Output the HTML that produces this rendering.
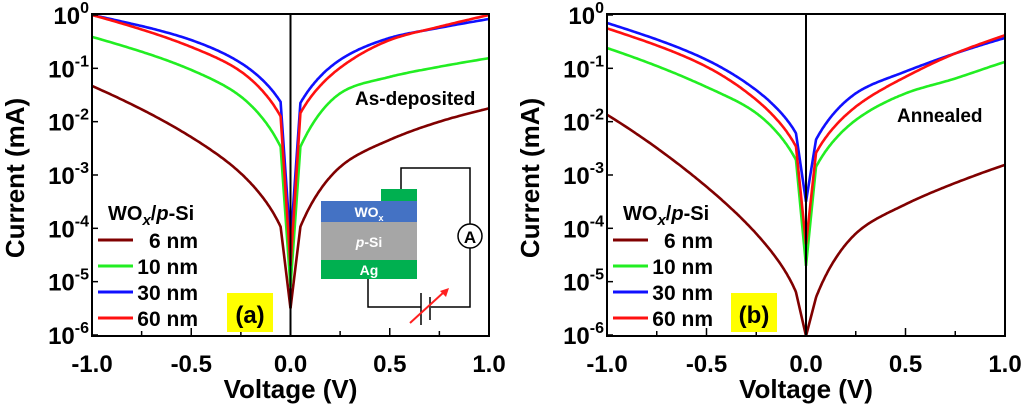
<!DOCTYPE html>
<html><head><meta charset="utf-8"><style>
body{margin:0;background:#fff;}
svg{display:block;font-family:"Liberation Sans",Arial,sans-serif;font-weight:bold;}
</style></head><body>
<svg id="s" width="1024" height="406" viewBox="0 0 1024 406" xmlns="http://www.w3.org/2000/svg"></svg>
<script>
const S=document.getElementById('s');let h='';
const Y=l=>15-l*53.33;
const cols=['#800000','#22ee22','#1010ff','#ff1010'];
// values at V = -1,-0.5,-0.25,-0.05,0,0.05,0.25,0.5,0.75,1
const data={a:[[-1.33,-2.29,-2.97,-3.97,-5.5,-3.97,-2.85,-2.34,-2.0,-1.75],
[-0.41,-1.03,-1.53,-2.47,-5.1,-2.47,-1.47,-1.16,-0.97,-0.81],
[0,-0.47,-0.9,-1.63,-4.3,-1.65,-0.84,-0.43,-0.24,-0.075],
[0,-0.6,-1.06,-1.9,-4.7,-1.84,-0.99,-0.47,-0.22,0]],
b:[[-1.87,-3.22,-4.1,-5.2,-6.1,-5.3,-4.1,-3.55,-3.15,-2.81],
[-0.62,-1.35,-1.84,-2.72,-4.7,-2.85,-1.97,-1.47,-1.19,-0.88],
[-0.15,-0.84,-1.41,-2.22,-3.5,-2.34,-1.47,-1.06,-0.72,-0.43],
[-0.25,-0.97,-1.59,-2.47,-4.3,-2.59,-1.72,-1.16,-0.72,-0.38]]};
function mono(xs,ys){const n=xs.length,dl=[],m=[];
 for(let i=0;i<n-1;i++)dl.push((ys[i+1]-ys[i])/(xs[i+1]-xs[i]));
 m[0]=dl[0];m[n-1]=dl[n-2];for(let i=1;i<n-1;i++)m[i]=dl[i-1]*dl[i]<=0?0:(dl[i-1]+dl[i])/2;
 for(let i=0;i<n-1;i++){if(dl[i]==0){m[i]=m[i+1]=0;continue;}const a=m[i]/dl[i],b=m[i+1]/dl[i],s=a*a+b*b;if(s>9){const t=3/Math.sqrt(s);m[i]=t*a*dl[i];m[i+1]=t*b*dl[i];}}
 return x=>{let j=0;while(j<n-2&&x>xs[j+1])j++;const hh=xs[j+1]-xs[j],t=(x-xs[j])/hh,t2=t*t,t3=t2*t;
  return (2*t3-3*t2+1)*ys[j]+(t3-2*t2+t)*hh*m[j]+(-2*t3+3*t2)*ys[j+1]+(t3-t2)*hh*m[j+1];};}
function side(X,ls,sgn){let us=[],vs=[];
 const map=sgn<0?[[0.05,3],[0.25,2],[0.5,1],[1,0]]:[[0.05,5],[0.25,6],[0.5,7],[0.75,8],[1,9]];
 map.forEach(([v,i])=>{us.push(Math.sqrt(v));vs.push(ls[i]);});
 const f=mono(us,vs);const pts=[[X(0),Y(ls[4])]];
 for(let k=0;k<=120;k++){const u=us[0]+(1-us[0])*k/120;pts.push([X(u*u*sgn),Y(f(u))]);}
 return pts.map(p=>p[0].toFixed(1)+','+Math.min(p[1],336).toFixed(1)).join(' ');}
function panel(L,R,d,lab,ann,annx,anny,legx,boxx){
 const X=v=>L+(v+1)/2*(R-L);const Z=X(0);
 d.forEach((ls,ci)=>{[-1,1].forEach(s=>{h+=`<polyline points="${side(X,ls,s)}" fill="none" stroke="${cols[ci]}" stroke-width="2.6" stroke-linejoin="round"/>`;});});
 h+=`<line x1="${Z}" y1="14" x2="${Z}" y2="336" stroke="#000" stroke-width="2"/>`;
 h+=`<rect x="${L}" y="14" width="${R-L}" height="322" fill="none" stroke="#000" stroke-width="2"/>`;
 for(let i=0;i<=8;i++){const x=L+i*(R-L)/8;h+=`<line x1="${x}" y1="336" x2="${x}" y2="${i%2?331:328}" stroke="#000" stroke-width="1.5"/>`;}
 ['-1.0','-0.5','0.0','0.5','1.0'].forEach((t,i)=>{h+=`<text x="${L+i*(R-L)/4}" y="372" font-size="24" text-anchor="middle">${t}</text>`;});
 for(let e=0;e<=6;e++){const y=Y(-e);h+=`<line x1="${L}" y1="${y}" x2="${L+6}" y2="${y}" stroke="#000" stroke-width="1.5"/>`;
  h+=`<text x="${L-3}" y="${y+9}" font-size="24" text-anchor="end">10<tspan dy="-11" font-size="16">${e?'-'+e:'0'}</tspan></text>`;}
 h+=`<text x="${(L+R)/2}" y="398" font-size="26" text-anchor="middle">Voltage (V)</text>`;
 h+=`<text transform="translate(${L-68},178) rotate(-90)" font-size="26" text-anchor="middle">Current (mA)</text>`;
 h+=`<text x="${annx}" y="${anny}" font-size="19">${ann}</text>`;
 h+=`<text x="${legx+10}" y="220" font-size="20">WO<tspan dy="5" font-style="italic" font-size="15">x</tspan><tspan dy="-5">/</tspan><tspan font-style="italic">p</tspan>-Si</text>`;
 ['6 nm','10 nm','30 nm','60 nm'].forEach((t,i)=>{const y=240+i*26;h+=`<line x1="${legx}" y1="${y}" x2="${legx+35}" y2="${y}" stroke="${cols[i]}" stroke-width="3"/>`;
  h+=`<text x="${legx+100}" y="${y+8}" font-size="21" text-anchor="end">${t}</text>`;});
 h+=`<rect x="${boxx}" y="293" width="46" height="39" fill="#ffff00"/><text x="${boxx+23}" y="323" font-size="24" text-anchor="middle">${lab}</text>`;
}
panel(92,489,data.a,'(a)','As-deposited',355,105,98,227);
panel(607,1005,data.b,'(b)','Annealed',897,122,613,731);
h+=`<g stroke="#000" stroke-width="1.5" fill="none"><polyline points="401,189 401,168 470,168 470,224"/><polyline points="470,248 470,307 431,307"/><polyline points="421,307 368,307 368,279"/>
<line x1="421" y1="293" x2="421" y2="325"/><line x1="430" y1="297" x2="430" y2="320"/><circle cx="470" cy="236" r="12" fill="#fff"/></g>
<text x="470" y="243" font-size="17" text-anchor="middle">A</text>
<rect x="381" y="189" width="36" height="12" fill="#00b050"/><rect x="321" y="201" width="96" height="21" fill="#4472c4"/>
<rect x="321" y="222" width="96" height="38" fill="#a6a6a6"/><rect x="321" y="260" width="96" height="19" fill="#00b050"/>
<text x="369" y="217" font-size="14" fill="#fff" text-anchor="middle">WO<tspan dy="4" font-size="9">x</tspan></text>
<text x="369" y="247" font-size="14" fill="#fff" text-anchor="middle"><tspan font-style="italic">p</tspan>-Si</text>
<text x="369" y="275" font-size="14" fill="#fff" text-anchor="middle">Ag</text>
<line x1="410" y1="323" x2="444" y2="292" stroke="#ff2020" stroke-width="2"/><polygon points="449,288 440,291 446,297" fill="#ff2020"/>`;
S.innerHTML=h;
</script>
</body></html>
